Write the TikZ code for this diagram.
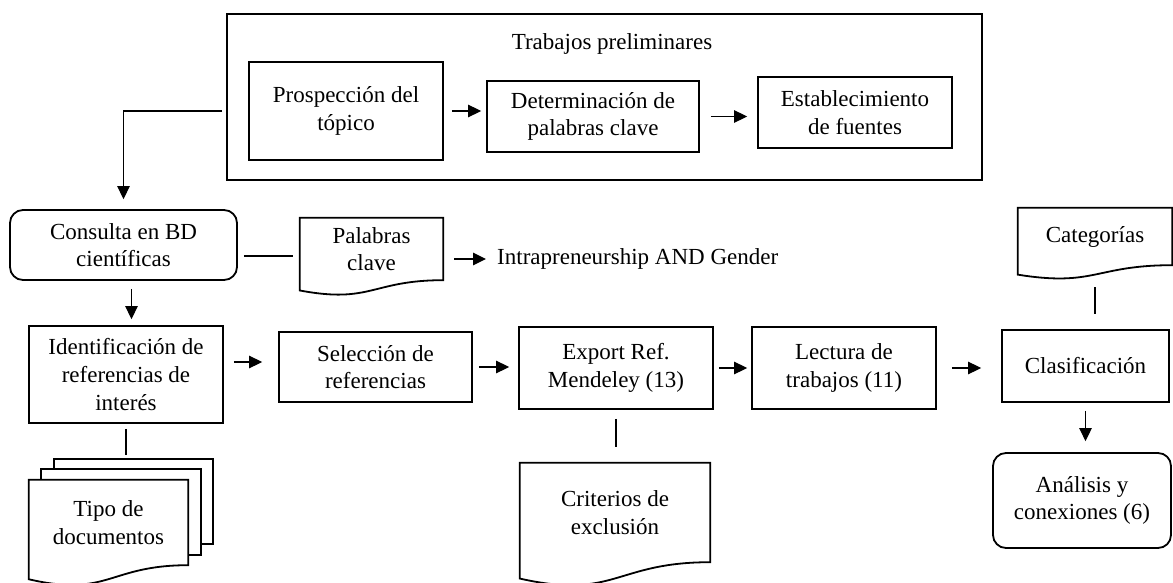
\documentclass[tikz,border=0pt]{standalone}
\usepackage{fontspec}
\setmainfont{Liberation Serif}
\usetikzlibrary{arrows.meta,calc}
\pgfdeclarelayer{bg}
\pgfdeclarelayer{background}
\pgfsetlayers{bg,background,main}
\newcommand\diagfont{\fontsize{23pt}{27.6pt}\selectfont}
\tikzset{
  box/.style={draw, line width=1.8pt, inner sep=0pt, align=center, font=\diagfont},
  rbox/.style={box, rounded corners=13pt},
  docn/.style={inner sep=0pt, align=center, font=\diagfont},
  docline/.style={line width=1.8pt, line join=miter},
  conn/.style={line width=1.3pt},
  arr/.style={conn, -{Triangle[length=13pt,width=12.5pt]}},
  plaintext/.style={inner sep=0pt, font=\diagfont}
}
\newcommand\docdraw[2][]{%
  \draw[docline,#1] let \p1=(#2.north west), \p2=(#2.south east) in
    (\x1,\y1) -- (\x2,\y1) -- (\x2,\y2)
    .. controls ({(\x1+\x2)/2},\y2) and ({(\x1+\x2)/2},{\y1+1.381*(\y2-\y1)}) ..
    (\x1,{\y1+1.1646*(\y2-\y1)}) -- cycle;}
\begin{document}
\begin{tikzpicture}[x=1pt,y=-1pt]
\useasboundingbox (0,0) rectangle (1173,583);
\begin{pgfonlayer}{bg}
  \fill[white] (0,0) rectangle (1173,583);
\end{pgfonlayer}

% top group
\node[box, minimum width=755pt, minimum height=166pt] (outer) at (604.5,97) {};
\node[plaintext] (title) at (612,44) {Trabajos preliminares};
\node[box, minimum width=194pt, minimum height=98pt] (prosp) at (346,111) {Prospección del\\tópico};
\node[box, minimum width=212pt, minimum height=71pt] (deter) at (593,116.5) {Determinación de\\palabras clave};
\node[box, minimum width=194pt, minimum height=71pt] (estab) at (855,112.5) {Establecimiento\\de fuentes};

% second row
\node[rbox, minimum width=227pt, minimum height=70pt] (consulta) at (123.5,245) {Consulta en BD\\científicas};
\node[docn, minimum width=143pt, minimum height=62pt] (palabras) at (371.5,249) {Palabras\\clave};
\node[plaintext, anchor=west] (intra) at (497,259) {Intrapreneurship AND Gender};
\node[docn, minimum width=154pt, minimum height=57pt] (cat) at (1095,236.5) {Categorías};

% third row
\node[box, minimum width=194pt, minimum height=97pt] (ident) at (126,374.5) {Identificación de\\referencias de\\interés};
\node[box, minimum width=193pt, minimum height=70pt] (sel) at (375.5,367) {Selección de\\referencias};
\node[box, minimum width=194pt, minimum height=82pt] (export) at (616,368) {Export Ref.\\Mendeley (13)};
\node[box, minimum width=184pt, minimum height=82pt] (lectura) at (844,368) {Lectura de\\trabajos (11)};
\node[box, minimum width=167pt, minimum height=72pt] (clas) at (1085.5,366) {Clasificación};

% bottom row
\node[docn, minimum width=159pt, minimum height=85pt] (tipo) at (108.5,522.5) {Tipo de\\documentos};
\node[docn, minimum width=190pt, minimum height=99pt] (crit) at (615,512.5) {Criterios de\\exclusión};
\node[rbox, minimum width=178pt, minimum height=95pt] (anal) at (1082,500.5) {Análisis y\\conexiones (6)};

% document shapes
\begin{pgfonlayer}{background}
  \docdraw{palabras}
  \docdraw{cat}
  \docdraw{crit}
  \draw[docline, fill=white] ([shift={(25pt,21pt)}]tipo.north west) rectangle ([shift={(25pt,21pt)}]tipo.south east);
  \draw[docline, fill=white] ([shift={(12.5pt,10.5pt)}]tipo.north west) rectangle ([shift={(12.5pt,10.5pt)}]tipo.south east);
  \docdraw[fill=white]{tipo}
\end{pgfonlayer}

% connectors
\draw[arr, shorten <=4pt, shorten >=10pt] (outer.west |- prosp.west) -| (consulta.north);
\draw[arr, shorten <=8pt, shorten >=5pt] (prosp.east) -- (prosp.east -| deter.west);
\draw[arr, shorten <=11pt, shorten >=10pt] (deter.east) -- (deter.east -| estab.west);
\draw[conn, shorten <=6pt, shorten >=7pt] ([yshift=-11pt]consulta.east) -- ([yshift=-11pt]consulta.east -| palabras.west);
\draw[arr, shorten <=11pt, shorten >=11pt] (palabras.east |- intra.west) -- (intra.west);
\draw[arr, shorten <=8pt, shorten >=6pt] ([xshift=8pt]consulta.south) -- ([xshift=8pt]consulta.south |- ident.north);
\draw[arr, shorten <=10pt, shorten >=16pt] ([yshift=5pt]sel.west -| ident.east) -- ([yshift=5pt]sel.west);
\draw[arr, shorten <=6pt, shorten >=9pt] (sel.east) -- (sel.east -| export.west);
\draw[arr, shorten <=5pt, shorten >=4pt] (export.east) -- (export.east -| lectura.west);
\draw[arr, shorten <=15pt, shorten >=20pt] (lectura.east) -- (lectura.east -| clas.west);
\draw[conn, shorten <=22pt, shorten >=15pt] (cat.south) -- (cat.south |- clas.north);
\draw[arr, shorten <=8pt, shorten >=11pt] (clas.south) -- (clas.south |- anal.north);
\draw[conn, shorten <=9pt, shorten >=16pt] (export.south) -- (export.south |- crit.north);
\draw[conn, shorten <=5pt, shorten >=25pt] (ident.south) -- (ident.south |- tipo.north);
\end{tikzpicture}
\end{document}
